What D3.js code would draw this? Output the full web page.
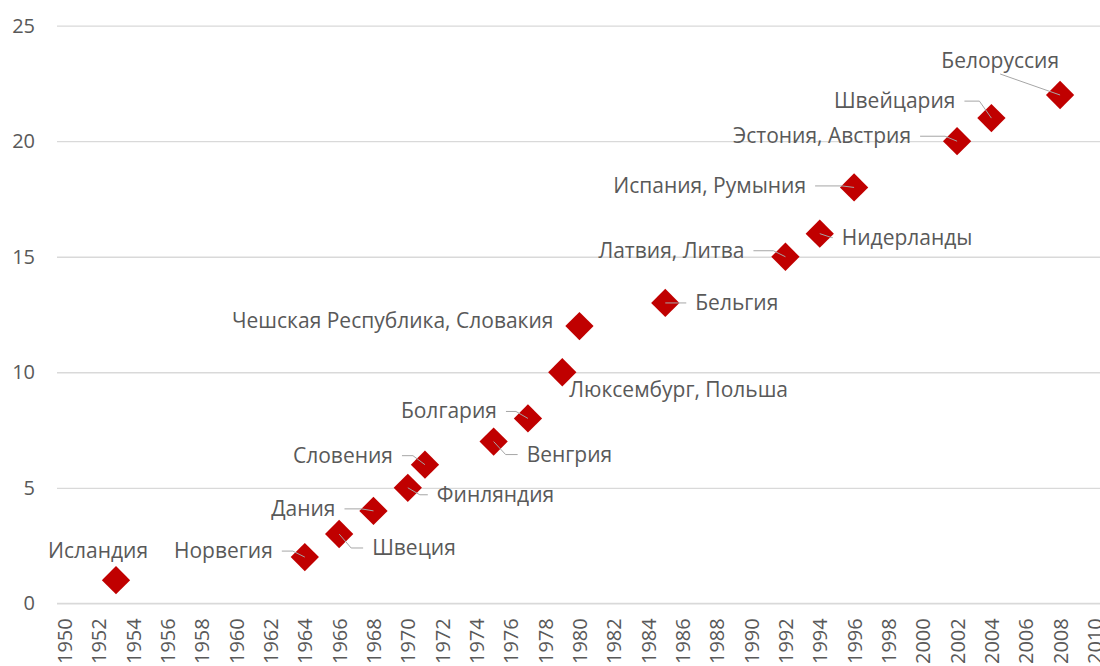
<!DOCTYPE html>
<html>
<head>
<meta charset="utf-8">
<script src="https://cdn.jsdelivr.net/npm/d3@7"></script>
<style>
  body { margin: 0; background: #fff; }
  svg text { font-family: "Open Sans", "Noto Sans", sans-serif; fill: #595959; }
  .grid line { stroke: #d9d9d9; stroke-width: 1.3; }
  .grid .domain { display: none; }
  .xaxis .domain { stroke: #d9d9d9; stroke-width: 1.3; }
</style>
</head>
<body>
<div id="chart"></div>
<script>
// Year of joining, count, country labels
const years = [1953, 1964, 1966, 1968, 1970, 1971, 1975, 1977, 1979, 1980, 1985, 1992, 1994, 1996, 2002, 2004, 2008];
const counts = [1, 2, 3, 4, 5, 6, 7, 8, 10, 12, 13, 15, 16, 18, 20, 21, 22];
const names = [
    "Исландия", "Норвегия", "Швеция", "Дания", "Финляндия", "Словения",
    "Венгрия", "Болгария", "Люксембург, Польша", "Чешская Республика, Словакия",
    "Бельгия", "Латвия, Литва", "Нидерланды", "Испания, Румыния",
    "Эстония, Австрия", "Швейцария", "Белоруссия"
];
const xTicks = d3.range(1950, 2011, 2);
const yTicks = [0, 5, 10, 15, 20, 25];

// label placement: side of the point, offset of text anchor / baseline
const labelLayout = [
    { side: "top",   anchor: "middle", dx: -18, dy: -22, leader: false },
    { side: "left",  dx: -32, dy: 1 },
    { side: "right", dx: 33,  dy: 21 },
    { side: "left",  dx: -38, dy: 5 },
    { side: "right", dx: 29,  dy: 14 },
    { side: "left",  dx: -32, dy: -2 },
    { side: "right", dx: 33,  dy: 20 },
    { side: "left",  dx: -31, dy: 0 },
    { side: "right", dx: 7,   dy: 25, leader: false },
    { side: "left",  dx: -26, dy: 2, leader: false },
    { side: "right", dx: 30,  dy: 7 },
    { side: "left",  dx: -41, dy: 1 },
    { side: "right", dx: 22,  dy: 11 },
    { side: "left",  dx: -48, dy: 5.5 },
    { side: "left",  dx: -46, dy: 2 },
    { side: "left",  dx: -36, dy: -10 },
    { side: "top",   anchor: "end", dx: -1,  dy: -27 }
];

const data = years.map((y, i) => ({ year: y, count: counts[i], name: names[i], layout: labelLayout[i] }));

const W = 1100, H = 666;
const plotLeft = 57, plotRight = 1100;
const fontSize = 21;

const svg = d3.select("#chart").append("svg")
    .attr("width", W)
    .attr("height", H);

const x = d3.scaleLinear().domain([1950, 2010]).range([64.5, 1094.4]);
const y = d3.scaleLinear().domain([0, 25]).range([603.3, 25.7]);

// horizontal gridlines + y labels
svg.append("g")
    .attr("class", "grid")
    .attr("transform", `translate(${plotLeft},0)`)
    .call(d3.axisLeft(y).tickValues(yTicks).tickSize(-(plotRight - plotLeft)).tickPadding(22))
    .call(g => g.selectAll("text").style("font-size", "20px"));

// x axis with rotated year labels
const xa = svg.append("g")
    .attr("class", "xaxis")
    .attr("transform", `translate(0,${y(0)})`)
    .call(d3.axisBottom(x).tickValues(xTicks).tickSize(0).tickFormat(d3.format("d")));
xa.select(".domain").attr("d", `M${plotLeft},0H${plotRight}`);
xa.selectAll("text")
    .style("font-size", "20px")
    .attr("transform", "rotate(-90)")
    .attr("text-anchor", "end")
    .attr("x", -15)
    .attr("y", 0)
    .attr("dy", "0.35em");

// markers
svg.append("g").selectAll("path")
    .data(data)
    .enter().append("path")
    .attr("d", d3.symbol(d3.symbolSquare, 400))
    .attr("transform", d => `translate(${x(d.year)},${y(d.count)}) rotate(45)`)
    .attr("fill", "#c00000");

// labels
const labels = svg.append("g").selectAll("text")
    .data(data)
    .enter().append("text")
    .attr("x", d => x(d.year) + d.layout.dx)
    .attr("y", d => y(d.count) + d.layout.dy)
    .attr("text-anchor", d => d.layout.anchor || (d.layout.side === "left" ? "end" : "start"))
    .style("font-size", fontSize + "px")
    .text(d => d.name);

// leader lines
const leaders = svg.append("g");
labels.each(function(d) {
    if (d.layout.leader === false) return;
    const px = x(d.year), py = y(d.count);
    const bb = this.getBBox();
    let pts;
    if (d.layout.side === "top") {
        pts = [[bb.x + bb.width / 2, bb.y + bb.height], [px, py]];
    } else {
        const ly = py + d.layout.dy - 7;
        const dir = d.layout.side === "left" ? 1 : -1;
        const sx = d.layout.side === "left" ? bb.x + bb.width + 9 : bb.x - 9;
        const ex = px - dir * 12;
        pts = (dir * (ex - sx) > 0) ? [[sx, ly], [ex, ly], [px, py]] : [[sx, ly], [px, py]];
    }
    leaders.append("path")
        .attr("d", d3.line()(pts))
        .attr("fill", "none")
        .attr("stroke", "#a6a6a6")
        .attr("stroke-width", 1);
});
</script>
</body>
</html>
